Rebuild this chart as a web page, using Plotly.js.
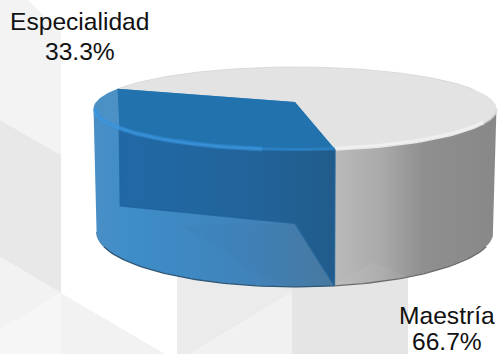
<!DOCTYPE html>
<html>
<head>
<meta charset="utf-8">
<script src="https://cdn.plot.ly/plotly-3.0.1.min.js"></script>
<style>html,body{margin:0;padding:0;background:#fff;overflow:hidden}#chart{width:499px;height:354px}</style>
</head>
<body>
<div id="chart"></div>
<script>
// Data
const categories = ['Especialidad', 'Maestría'];
const shares = [33.3, 66.7];

// Projection of the pie (a tilted disc with perspective), in page pixels
const W = 499, H = 354;
const P = 0.156, CX = 295, START = 9.8;
const TOP = {R: 199, ry: 40.5, cy: 102};
const BOT = {R: 196, ry: 53.6, cy: 223.4};
const SIL = 81;  // angle at which the disc silhouette turns

function pt(d, deg, k) {
  k = k === undefined ? 1 : k;
  const a = deg * Math.PI / 180, u = Math.sin(a) * k, v = Math.cos(a) * k;
  const s = 1 / (1 - P * v);
  return [CX + d.R * u * s, d.cy + d.ry * v * s];
}
function arc(d, a0, a1, k) {
  const n = Math.max(2, Math.ceil(Math.abs(a1 - a0) / 1.5)), out = [];
  for (let i = 0; i <= n; i++) out.push(pt(d, a0 + (a1 - a0) * i / n, k));
  return out;
}
const centre = d => [CX, d.cy];

const blueEnd = START - shares[0] / 100 * 360;
const grayEnd = START + shares[1] / 100 * 360;

function poly(points, opt) {
  const p = points.concat([points[0]]);
  const t = {type: 'scatter', mode: 'lines', x: p.map(q => q[0]), y: p.map(q => q[1]),
    fill: 'toself', line: {width: 0}, hoverinfo: 'skip', showlegend: false};
  if (opt.grad) {
    t.fillgradient = {type: 'horizontal', colorscale: opt.grad};
  } else {
    t.fillcolor = opt.color;
  }
  if (opt.line) t.line = opt.line;
  return t;
}
function stroke(points, color, width) {
  return {type: 'scatter', mode: 'lines', x: points.map(q => q[0]), y: points.map(q => q[1]),
    line: {color: color, width: width}, hoverinfo: 'skip', showlegend: false};
}

const traces = [];
const edgeL = pt(TOP, blueEnd), edgeBL = pt(BOT, blueEnd);
const frontB = pt(BOT, START);

// Gray slice: wall then top
traces.push(poly(arc(TOP, START, SIL).concat(arc(BOT, SIL, START)), {
  grad: [[0, '#bababa'], [0.3, '#a9a9a9'], [0.55, '#8f8f8f'], [1, '#888888']]
}));
// Background seen through the gray wall
traces.push(poly(arc(BOT, START, 30).concat([[372, 262]]), {color: 'rgba(255,255,255,0.05)'}));
traces.push(poly([centre(TOP)].concat(arc(TOP, START, grayEnd)), {color: '#e3e3e3'}));
traces.push(stroke(arc(TOP, 110, 250), '#d4d4d4', 0.8));
traces.push(stroke(arc(TOP, 60, SIL), 'rgba(225,225,225,0.7)', 3));
traces.push(stroke(arc(TOP, START, 62, 0.993), 'rgba(240,240,240,0.9)', 4));

// Blue slice: wall, rim, then the darker cut faces seen through it
traces.push(poly(arc(TOP, -SIL, START).concat(arc(BOT, START, -SIL)), {
  grad: [[0, '#4a8fc6'], [0.15, '#3e8dc9'], [0.65, '#4083ba'], [1, '#4a7aa2']]
}));
traces.push(poly([[177, 225], [213, 243], [253, 273], [290, 287], [335, 287], [298, 224]], {color: 'rgba(0,0,0,0.015)'}));
traces.push(poly([centre(TOP)].concat(arc(TOP, START, blueEnd)), {color: '#4c91c6'}));
// dark interior of the wall
const XL = edgeL[0];
const visible = arc(TOP, START, blueEnd).filter(q => q[0] >= XL + 0.5);
const front = visible.filter(q => q[1] > edgeL[1] + 3);
traces.push(poly(front.concat([edgeBL, centre(BOT), frontB]), {
  grad: [[0, '#2169a6'], [0.6, '#22649a'], [1, '#215b8b']],
  line: {width: 1.5, color: 'rgba(33,100,155,0.8)'}
}));
traces.push(poly([centre(TOP)].concat(front, [edgeL]), {color: '#2272ae'}));
// rim highlight and outline of the base
traces.push(stroke(arc(TOP, -SIL, -8, 0.993), 'rgba(58,148,220,0.45)', 5));
traces.push(stroke(arc(TOP, -SIL, -8, 0.993), 'rgba(58,148,220,0.8)', 2.5));
traces.push(stroke(arc(TOP, -8, START, 0.993), 'rgba(47,134,201,0.7)', 3));
traces.push(stroke(arc(BOT, -SIL, -66), '#3f7fb0', 1));
traces.push(stroke(arc(BOT, -66, START), '#2f5777', 1.3));
traces.push(stroke(arc(BOT, START, 66), '#6c6c6c', 1.3));

// Faint low-poly page background
function bg(points, color) {
  return {type: 'path', layer: 'below', xref: 'x', yref: 'y', line: {width: 0}, fillcolor: color,
    path: 'M' + points.map(q => q.join(',')).join('L') + 'Z'};
}
const shapes = [
  bg([[0,0],[28,0],[61,32],[61,155],[0,120]], '#f3f3f3'),
  bg([[0,120],[61,155],[61,293],[0,257]], '#e8e8e8'),
  bg([[0,257],[61,293],[0,330]], '#f2f2f2'),
  bg([[0,330],[61,293],[61,354],[0,354]], '#f6f6f6'),
  bg([[61,293],[165,354],[61,354]], '#f2f2f2'),
  bg([[177,270],[292,270],[292,292],[190,354],[177,354]], '#ebebeb'),
  bg([[292,292],[292,354],[190,354]], '#f1f1f1'),
  bg([[292,255],[408,255],[408,354],[292,354]], '#e5e5e5')
];

// Labels
const labelFont = {family: '"Liberation Sans", Arial, sans-serif', size: 24.6, color: '#111111'};
const labelSpots = [{x: 79.5, y1: 21, y2: 51}, {x: 447, y1: 315, y2: 341}];
const annotations = [];
categories.forEach((c, i) => {
  const s = labelSpots[i];
  annotations.push({x: s.x, y: s.y1, xref: 'x', yref: 'y', text: c, showarrow: false, font: labelFont, xanchor: 'center', yanchor: 'middle'});
  annotations.push({x: s.x, y: s.y2, xref: 'x', yref: 'y', text: shares[i].toFixed(1) + '%', showarrow: false, font: labelFont, xanchor: 'center', yanchor: 'middle'});
});

Plotly.newPlot('chart', traces, {
  width: W, height: H,
  margin: {l: 0, r: 0, t: 0, b: 0},
  paper_bgcolor: '#ffffff', plot_bgcolor: 'rgba(0,0,0,0)',
  xaxis: {range: [0, W], visible: false, fixedrange: true},
  yaxis: {range: [H, 0], visible: false, fixedrange: true},
  showlegend: false, shapes: shapes, annotations: annotations
}, {displayModeBar: false, staticPlot: true});
</script>
</body>
</html>
